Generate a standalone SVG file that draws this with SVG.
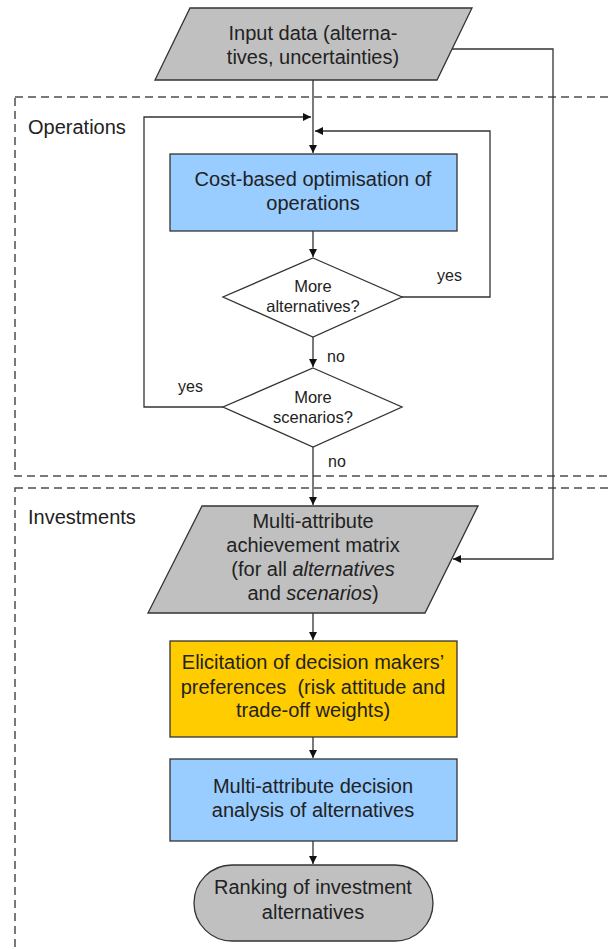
<svg xmlns="http://www.w3.org/2000/svg" width="608" height="950" viewBox="0 0 608 950">
  <style>
    .zone { fill: none; stroke: #4d4d4d; stroke-width: 1.5; stroke-dasharray: 8 5; }
    .zlabel { font-family: "Liberation Sans", Arial, sans-serif; font-size: 20px; fill: #222; }
    .gray { fill: #c0c0c0; stroke: #333; stroke-width: 1.3; }
    .blue { fill: #99ccff; stroke: #333; stroke-width: 1.3; }
    .orange { fill: #ffcc00; stroke: #333; stroke-width: 1.3; }
    .dec { fill: #ffffff; stroke: #333; stroke-width: 1.3; }
    .t { font-family: "Liberation Sans", Arial, sans-serif; font-size: 20px; fill: #222; text-anchor: middle; }
    .td { font-family: "Liberation Sans", Arial, sans-serif; font-size: 16.5px; fill: #222; text-anchor: middle; }
    .lbl { font-family: "Liberation Sans", Arial, sans-serif; font-size: 16px; fill: #222; }
    .edge { fill: none; stroke: #333; stroke-width: 1.3; }
  </style>
  <defs>
    <marker id="arrow" markerUnits="userSpaceOnUse" markerWidth="9" markerHeight="9" refX="8" refY="4" orient="auto">
      <path d="M0,0 L8,4 L0,8 z" fill="#111"/>
    </marker>
  </defs>

  <rect width="608" height="950" fill="#ffffff"/>

  <!-- dashed swimlanes -->
  <g id="zone-operations">
    <rect class="zone" x="15" y="97" width="620" height="379"/>
    <text class="zlabel" x="28" y="134">Operations</text>
  </g>
  <g id="zone-investments">
    <rect class="zone" x="15" y="488" width="620" height="500"/>
    <text class="zlabel" x="28" y="524">Investments</text>
  </g>

  <!-- connectors -->
  <g id="connectors">
    <path class="edge" d="M313,80 V153" marker-end="url(#arrow)"/>
    <path class="edge" d="M452,49 H553 V559 H453" marker-end="url(#arrow)"/>
    <path class="edge" d="M313,231 V257" marker-end="url(#arrow)"/>
    <path class="edge" d="M401,297 H490 V131 H315" marker-end="url(#arrow)"/>
    <path class="edge" d="M313,337 V367" marker-end="url(#arrow)"/>
    <path class="edge" d="M223,407 H144 V117 H311" marker-end="url(#arrow)"/>
    <path class="edge" d="M313,447 V505" marker-end="url(#arrow)"/>
    <path class="edge" d="M313,613 V640" marker-end="url(#arrow)"/>
    <path class="edge" d="M313,737 V758" marker-end="url(#arrow)"/>
    <path class="edge" d="M313,841 V864" marker-end="url(#arrow)"/>
    <text class="lbl" x="437" y="281">yes</text>
    <text class="lbl" x="327" y="362">no</text>
    <text class="lbl" x="178" y="392">yes</text>
    <text class="lbl" x="328" y="467">no</text>
  </g>

  <!-- nodes -->
  <g id="input-data">
    <polygon class="gray" points="190,8 472,8 437,80 155,80"/>
    <text class="t" x="313" y="40">Input data (alterna-</text>
    <text class="t" x="313" y="64">tives, uncertainties)</text>
  </g>

  <g id="cost-optimisation">
    <rect class="blue" x="170" y="154" width="287" height="77"/>
    <text class="t" x="313" y="186">Cost-based optimisation of</text>
    <text class="t" x="313" y="210">operations</text>
  </g>

  <g id="more-alternatives">
    <polygon class="dec" points="313,258 402,297 313,337 223,297"/>
    <text class="td" x="313" y="292">More</text>
    <text class="td" x="313" y="312">alternatives?</text>
  </g>

  <g id="more-scenarios">
    <polygon class="dec" points="313,368 402,407 313,447 223,407"/>
    <text class="td" x="313" y="403">More</text>
    <text class="td" x="313" y="423">scenarios?</text>
  </g>

  <g id="achievement-matrix">
    <polygon class="gray" points="202,506 478,506 425,613 148,613"/>
    <text class="t" x="313" y="528">Multi-attribute</text>
    <text class="t" x="313" y="552">achievement matrix</text>
    <text class="t" x="313" y="576">(for all <tspan font-style="italic">alternatives</tspan></text>
    <text class="t" x="313" y="600">and <tspan font-style="italic">scenarios</tspan>)</text>
  </g>

  <g id="elicitation">
    <rect class="orange" x="170" y="641" width="287" height="96"/>
    <text class="t" x="313" y="669">Elicitation of decision makers’</text>
    <text class="t" x="313" y="694" xml:space="preserve">preferences  (risk attitude and</text>
    <text class="t" x="313" y="717">trade-off weights)</text>
  </g>

  <g id="decision-analysis">
    <rect class="blue" x="170" y="759" width="287" height="82"/>
    <text class="t" x="313" y="793">Multi-attribute decision</text>
    <text class="t" x="313" y="817">analysis of alternatives</text>
  </g>

  <g id="ranking">
    <rect class="gray" x="194" y="865" width="239" height="76" rx="38" ry="38"/>
    <text class="t" x="313" y="894">Ranking of investment</text>
    <text class="t" x="313" y="919">alternatives</text>
  </g>
</svg>
